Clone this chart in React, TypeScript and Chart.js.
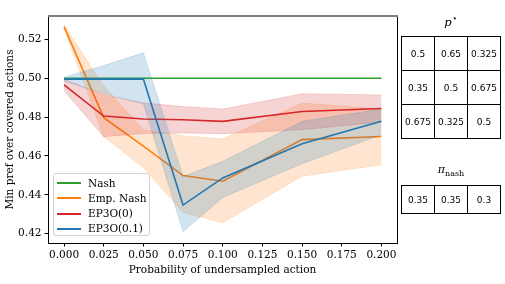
import React, { useEffect, useRef } from "react";
import { Chart, registerables } from "chart.js";

Chart.register(...registerables);

// ---- data ----
const xValues = [0, 0.025, 0.05, 0.075, 0.1, 0.15, 0.2];

const nashMean = [0.5, 0.5, 0.5, 0.5, 0.5, 0.5, 0.5];

const empNashMean = [0.5265, 0.4797, 0.465, 0.4499, 0.447, 0.4684, 0.47];
const empNashUpper = [0.5275, 0.496, 0.4735, 0.4704, 0.4687, 0.4872, 0.4841];
const empNashLower = [0.5255, 0.4699, 0.454, 0.4309, 0.4256, 0.4495, 0.4555];

const ep3o0Mean = [0.4966, 0.4805, 0.479, 0.4786, 0.4778, 0.4829, 0.4844];
const ep3o0Upper = [0.4995, 0.4914, 0.4873, 0.4854, 0.4841, 0.492, 0.4914];
const ep3o0Lower = [0.4935, 0.4699, 0.4715, 0.4718, 0.4714, 0.4735, 0.4775];

const ep3o01Mean = [0.4995, 0.4995, 0.4996, 0.4347, 0.4487, 0.4663, 0.4778];
const ep3o01Upper = [0.5005, 0.5065, 0.5131, 0.4495, 0.4572, 0.4778, 0.4841];
const ep3o01Lower = [0.4985, 0.492, 0.4867, 0.421, 0.4386, 0.456, 0.4709];

const seriesNames = ["Nash", "Emp. Nash", "EP3O(0)", "EP3O(0.1)"];
const seriesColors = ["#2ca02c", "#ff7f0e", "#d62728", "#1f77b4"];
const bandColors = [
  "rgba(44,160,44,0.2)",
  "rgba(255,127,14,0.2)",
  "rgba(214,39,40,0.2)",
  "rgba(31,119,180,0.2)",
];

const xTicks = [0, 0.025, 0.05, 0.075, 0.1, 0.125, 0.15, 0.175, 0.2];
const yTicks = [0.42, 0.44, 0.46, 0.48, 0.5, 0.52];

const pStarTable = [
  ["0.5", "0.65", "0.325"],
  ["0.35", "0.5", "0.675"],
  ["0.675", "0.325", "0.5"],
];
const piNashTable = ["0.35", "0.35", "0.3"];

const xLabel = "Probability of undersampled action";
const yLabel = "Min pref over covered actions";

// ---- helpers ----
const pts = (ys: number[]) => xValues.map((x, i) => ({ x, y: ys[i] }));
const SERIF = "'DejaVu Serif', serif";
const SANS = "'DejaVu Sans', sans-serif";

const framePlugin = {
  id: "frame",
  afterDraw(chart: any) {
    const { ctx, chartArea } = chart;
    const { left, right, top, bottom } = chartArea;
    ctx.save();
    ctx.strokeStyle = "#000";
    ctx.lineWidth = 1;
    ctx.beginPath();
    ctx.moveTo(Math.round(right) + 0.5, top);
    ctx.lineTo(Math.round(right) + 0.5, bottom);
    ctx.stroke();
    ctx.strokeStyle = "#808080";
    ctx.lineWidth = 2;
    ctx.beginPath();
    ctx.moveTo(left, top);
    ctx.lineTo(right + 1, top);
    ctx.stroke();
    ctx.restore();
  },
};

function buildDatasets() {
  const ds: any[] = [];
  const line = (label: string, data: number[], color: string) => ({
    label,
    data: pts(data),
    borderColor: color,
    backgroundColor: color,
    borderWidth: 1.6,
    pointRadius: 0,
    fill: false,
    tension: 0,
  });
  const band = (upper: number[], lower: number[], color: string) => {
    const upIdx = ds.length;
    ds.push({
      label: "_upper",
      data: pts(upper),
      borderColor: color,
      backgroundColor: color,
      borderWidth: 0.8,
      pointRadius: 0,
      fill: upIdx + 1,
      tension: 0,
    });
    ds.push({
      label: "_lower",
      data: pts(lower),
      borderColor: color,
      backgroundColor: color,
      borderWidth: 0.8,
      pointRadius: 0,
      fill: false,
      tension: 0,
    });
  };
  ds.push(line(seriesNames[0], nashMean, seriesColors[0]));
  band(empNashUpper, empNashLower, bandColors[1]);
  ds.push(line(seriesNames[1], empNashMean, seriesColors[1]));
  band(ep3o0Upper, ep3o0Lower, bandColors[2]);
  ds.push(line(seriesNames[2], ep3o0Mean, seriesColors[2]));
  band(ep3o01Upper, ep3o01Lower, bandColors[3]);
  ds.push(line(seriesNames[3], ep3o01Mean, seriesColors[3]));
  // draw in list order: first = bottom
  ds.forEach((d, i) => (d.order = 100 - i));
  return ds;
}

function ChartCanvas() {
  const ref = useRef<HTMLCanvasElement | null>(null);
  useEffect(() => {
    if (!ref.current) return;
    const tickFont = { family: SERIF, size: 10.5 };
    const chart = new Chart(ref.current, {
      type: "line",
      data: { datasets: buildDatasets() },
      options: {
        animation: false,
        responsive: false,
        maintainAspectRatio: false,
        devicePixelRatio: 1,
        layout: { padding: { top: 16, right: 108, left: 0, bottom: 0 } },
        plugins: {
          legend: { display: false },
          tooltip: { enabled: false },
        },
        elements: { point: { radius: 0 } },
        scales: {
          x: {
            type: "linear",
            min: -0.0101,
            max: 0.2098,
            afterBuildTicks: (s: any) => {
              s.ticks = xTicks.map((v) => ({ value: v }));
            },
            afterFit: (s: any) => {
              s.height = 41;
            },
            ticks: {
              callback: (v: any) => Number(v).toFixed(3),
              font: tickFont,
              color: "#000",
              padding: 2,
              maxRotation: 0,
              autoSkip: false,
            },
            grid: {
              drawOnChartArea: false,
              drawTicks: true,
              tickLength: 3.5,
              color: "#000",
              lineWidth: 1,
            },
            border: { display: true, color: "#000", width: 1 },
            title: {
              display: true,
              text: xLabel,
              font: tickFont,
              color: "#000",
              padding: { top: 0, bottom: 7.5 },
            },
          },
          y: {
            type: "linear",
            min: 0.4152,
            max: 0.532,
            afterBuildTicks: (s: any) => {
              s.ticks = yTicks.map((v) => ({ value: v }));
            },
            afterFit: (s: any) => {
              s.width = 48;
            },
            ticks: {
              callback: (v: any) => Number(v).toFixed(2),
              font: tickFont,
              color: "#000",
              padding: 3,
              autoSkip: false,
            },
            grid: {
              drawOnChartArea: false,
              drawTicks: true,
              tickLength: 3.5,
              color: "#000",
              lineWidth: 1,
            },
            border: { display: true, color: "#000", width: 1 },
            title: {
              display: true,
              text: yLabel,
              font: tickFont,
              color: "#000",
              padding: { top: 4, bottom: 0 },
            },
          },
        },
      },
      plugins: [framePlugin],
    } as any);
    return () => chart.destroy();
  }, []);
  return <canvas ref={ref} width={505} height={284} style={{ position: "absolute", left: 0, top: 0 }} />;
}

function Legend() {
  return (
    <div
      style={{
        position: "absolute",
        left: 53,
        top: 173,
        width: 97,
        height: 63,
        boxSizing: "border-box",
        border: "1px solid #d4d4d4",
        borderRadius: 3,
        background: "rgba(255,255,255,0.8)",
        fontFamily: SERIF,
        fontSize: 10.5,
        color: "#000",
      }}
    >
      {seriesNames.map((n, i) => (
        <React.Fragment key={n}>
          <div
            style={{
              position: "absolute",
              left: 3,
              top: 8 + i * 15.3,
              width: 23.5,
              height: 2,
              background: seriesColors[i],
            }}
          />
          <div
            style={{
              position: "absolute",
              left: 34,
              top: 1.5 + i * 15.3,
              lineHeight: "15px",
              whiteSpace: "nowrap",
            }}
          >
            {n}
          </div>
        </React.Fragment>
      ))}
    </div>
  );
}

const cellBase: React.CSSProperties = {
  border: "1px solid #000",
  width: 32,
  padding: 0,
  textAlign: "center",
  verticalAlign: "middle",
  fontFamily: SANS,
  fontSize: 9,
  color: "#000",
  background: "#fff",
};

function Tables() {
  return (
    <>
      <div
        style={{
          position: "absolute",
          left: 401,
          top: 13,
          width: 100,
          textAlign: "center",
          fontFamily: SERIF,
          fontSize: 11.5,
        }}
      >
        <i>p</i>
        <sup style={{ fontSize: 9 }}>⋆</sup>
      </div>
      <table
        style={{
          position: "absolute",
          left: 401,
          top: 36,
          borderCollapse: "collapse",
          tableLayout: "fixed",
        }}
      >
        <tbody>
          {pStarTable.map((row, r) => (
            <tr key={r}>
              {row.map((c, k) => (
                <td key={k} style={{ ...cellBase, height: 33 }}>
                  {c}
                </td>
              ))}
            </tr>
          ))}
        </tbody>
      </table>
      <div
        style={{
          position: "absolute",
          left: 401,
          top: 163,
          width: 100,
          textAlign: "center",
          fontFamily: SERIF,
          fontSize: 11,
        }}
      >
        <i>π</i>
        <sub style={{ fontSize: 8 }}>nash</sub>
      </div>
      <table
        style={{
          position: "absolute",
          left: 401,
          top: 185,
          borderCollapse: "collapse",
          tableLayout: "fixed",
        }}
      >
        <tbody>
          <tr>
            {piNashTable.map((c, k) => (
              <td key={k} style={{ ...cellBase, height: 27 }}>
                {c}
              </td>
            ))}
          </tr>
        </tbody>
      </table>
    </>
  );
}

export default function App() {
  return (
    <div style={{ position: "absolute", left: 0, top: 0, width: 505, height: 284, background: "#fff" }}>
      <ChartCanvas />
      <Legend />
      <Tables />
    </div>
  );
}
